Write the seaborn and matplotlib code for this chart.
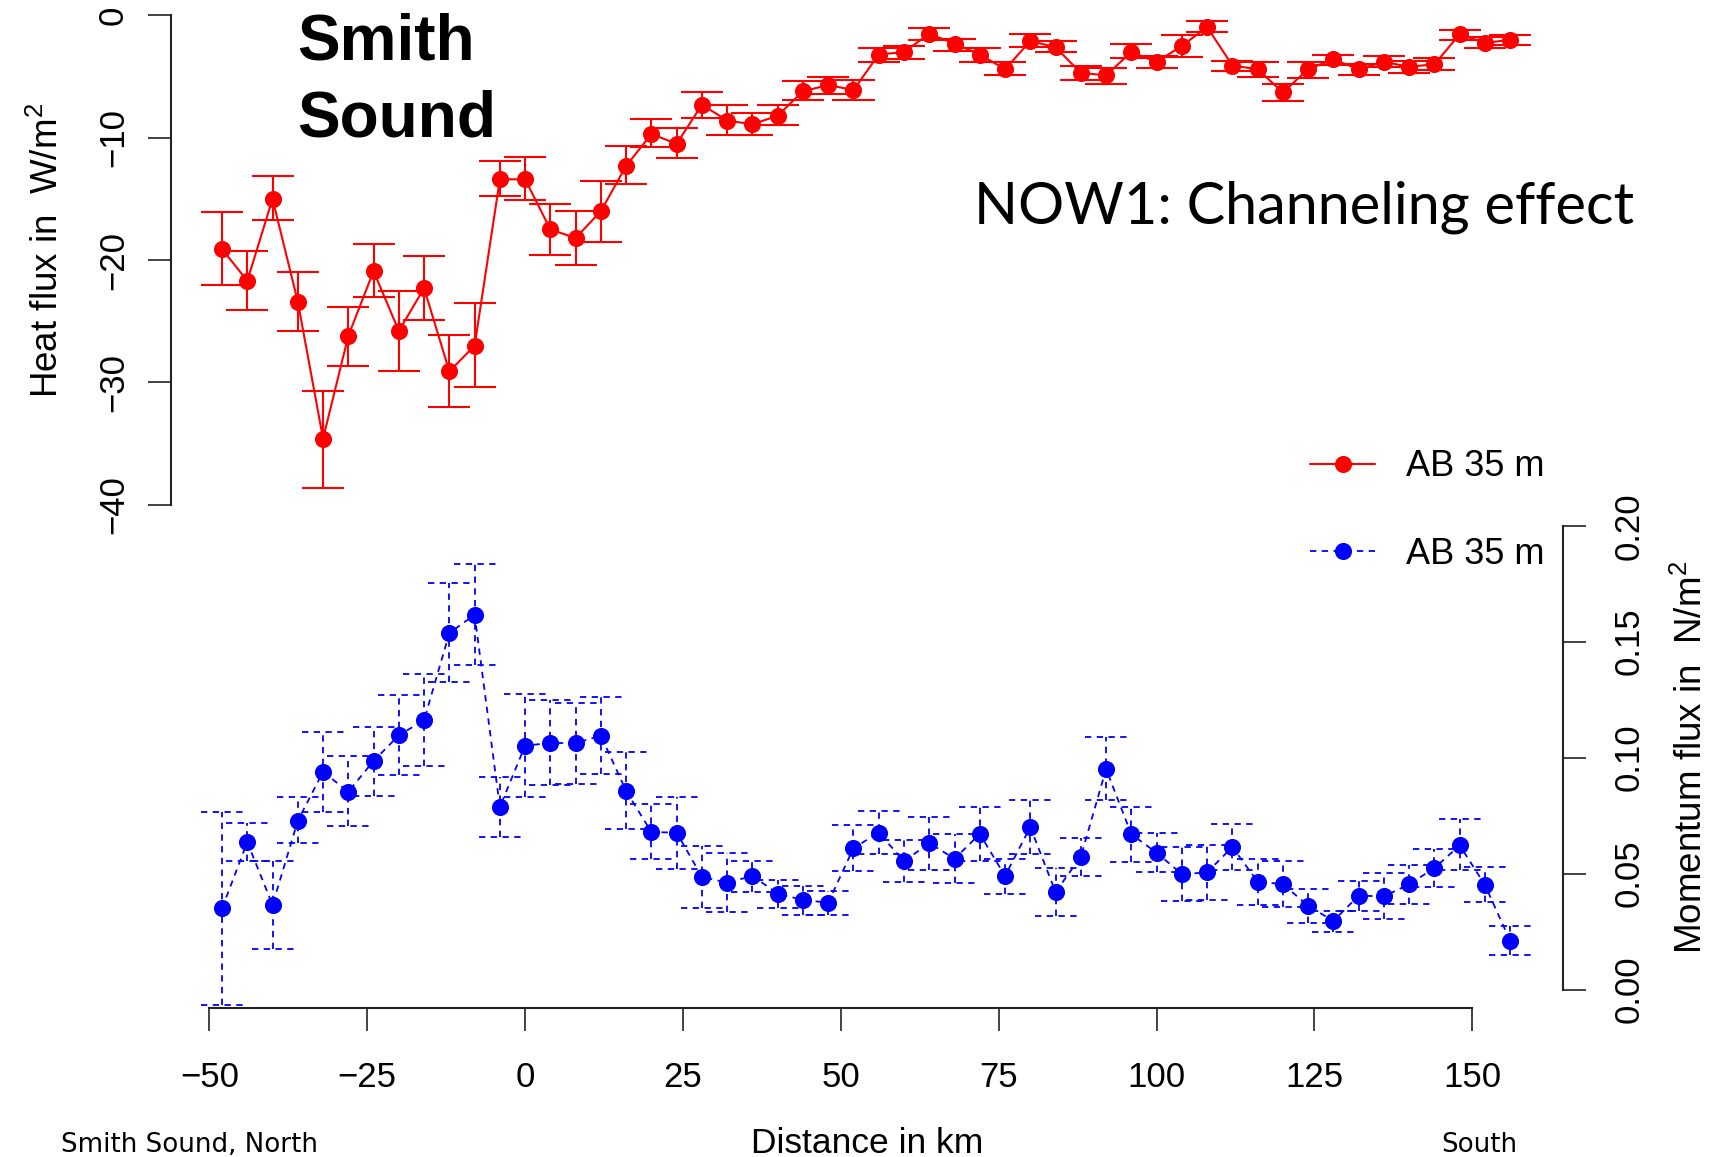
import numpy as np
import pandas as pd
import matplotlib
matplotlib.use("Agg")
import matplotlib.pyplot as plt
import seaborn as sns
from matplotlib.lines import Line2D
from matplotlib.ticker import FormatStrFormatter

# ---------------- data ----------------
km = [-48, -44, -40, -36, -32, -28, -24, -20, -16, -12, -8, -4, 0, 4, 8, 12,
      16, 20, 24, 28, 32, 36, 40, 44, 48, 52, 56, 60, 64, 68, 72, 76, 80, 84,
      88, 92, 96, 100, 104, 108, 112, 116, 120, 124, 128, 132, 136, 140, 144,
      148, 152, 156]

heat = [-19.1, -21.7, -15.0, -23.4, -34.6, -26.2, -20.9, -25.8, -22.3, -29.1,
        -27.0, -13.4, -13.4, -17.5, -18.2, -16.0, -12.3, -9.7, -10.5, -7.3,
        -8.6, -8.9, -8.2, -6.2, -5.7, -6.1, -3.2, -3.0, -1.5, -2.3, -3.2, -4.4,
        -2.1, -2.6, -4.7, -4.9, -3.0, -3.8, -2.5, -0.95, -4.1, -4.4, -6.3, -4.4,
        -3.6, -4.4, -3.8, -4.2, -4.0, -1.55, -2.25, -2.0]
heat_hi = [-16.1, -19.3, -13.1, -21.0, -30.7, -23.8, -18.7, -22.5, -19.7, -26.1,
           -23.5, -11.9, -11.6, -15.4, -16.0, -13.5, -10.7, -8.5, -9.2, -6.3,
           -7.3, -8.0, -7.3, -5.4, -5.0, -5.3, -2.7, -2.5, -1.0, -1.9, -2.7, -3.8,
           -1.5, -2.1, -4.1, -4.3, -2.3, -3.3, -1.6, -0.5, -3.7, -3.8, -5.6, -3.8,
           -3.2, -4.0, -3.35, -3.75, -3.5, -1.2, -1.8, -1.6]
heat_lo = [-22.0, -24.1, -16.7, -25.8, -38.6, -28.7, -23.0, -29.1, -24.9, -32.0,
           -30.4, -14.8, -15.1, -19.6, -20.4, -18.5, -13.8, -10.8, -11.7, -8.4,
           -9.8, -9.8, -9.0, -6.9, -6.4, -6.9, -3.8, -3.6, -2.0, -2.9, -3.8, -4.9,
           -2.6, -3.0, -5.3, -5.6, -3.5, -4.3, -3.4, -1.4, -4.55, -5.0, -7.0, -5.1,
           -4.05, -4.9, -4.2, -4.7, -4.5, -2.0, -2.7, -2.4]

mom = [0.0350, 0.0636, 0.0365, 0.0728, 0.0939, 0.0853, 0.0986, 0.1096, 0.1162,
       0.1537, 0.1616, 0.0787, 0.1052, 0.1063, 0.1063, 0.1095, 0.0856, 0.0679,
       0.0677, 0.0486, 0.0461, 0.0490, 0.0414, 0.0386, 0.0375, 0.0610, 0.0677,
       0.0553, 0.0632, 0.0564, 0.0671, 0.0490, 0.0701, 0.0421, 0.0573, 0.0951,
       0.0670, 0.0590, 0.0498, 0.0505, 0.0615, 0.0465, 0.0455, 0.0361, 0.0296,
       0.0405, 0.0402, 0.0454, 0.0524, 0.0622, 0.0451, 0.0210]
mom_hi = [0.0767, 0.0717, 0.0556, 0.0829, 0.1109, 0.1005, 0.1133, 0.1269, 0.1359,
          0.1754, 0.1834, 0.0917, 0.1274, 0.1247, 0.1237, 0.1263, 0.1023, 0.0799,
          0.0832, 0.0620, 0.0588, 0.0553, 0.0472, 0.0447, 0.0424, 0.0708, 0.0770,
          0.0644, 0.0743, 0.0672, 0.0789, 0.0563, 0.0816, 0.0523, 0.0655, 0.1088,
          0.0786, 0.0676, 0.0616, 0.0625, 0.0714, 0.0565, 0.0554, 0.0432, 0.0340,
          0.0469, 0.0501, 0.0536, 0.0605, 0.0737, 0.0528, 0.0275]
mom_lo = [-0.0066, 0.0556, 0.0176, 0.0632, 0.0767, 0.0705, 0.0835, 0.0924, 0.0964,
          0.1325, 0.1399, 0.0657, 0.0829, 0.0882, 0.0888, 0.0928, 0.0692, 0.0565,
          0.0521, 0.0350, 0.0333, 0.0422, 0.0353, 0.0322, 0.0322, 0.0513, 0.0583,
          0.0464, 0.0516, 0.0460, 0.0553, 0.0412, 0.0586, 0.0316, 0.0490, 0.0817,
          0.0549, 0.0506, 0.0382, 0.0386, 0.0517, 0.0365, 0.0358, 0.0289, 0.0249,
          0.0340, 0.0306, 0.0369, 0.0442, 0.0515, 0.0376, 0.0149]

x_ticks = [-50, -25, 0, 25, 50, 75, 100, 125, 150]
heat_ticks = [0, -10, -20, -30, -40]
mom_ticks = [0.00, 0.05, 0.10, 0.15, 0.20]
series_label = "AB 35 m"

# ---------------- style ----------------
sns.set_style("white")
plt.rcParams['font.family'] = ['Liberation Sans', 'DejaVu Sans']
plt.rcParams['mathtext.fontset'] = 'custom'
plt.rcParams['mathtext.rm'] = 'Liberation Sans'
plt.rcParams['mathtext.it'] = 'Liberation Sans:italic'
plt.rcParams['mathtext.bf'] = 'Liberation Sans:bold'
for k in ['text.color', 'axes.labelcolor', 'xtick.color', 'ytick.color']:
    plt.rcParams[k] = 'black'

W, H = 1728, 1157
fig = plt.figure(figsize=(W / 100, H / 100), dpi=100)
L, R, T, B = 171, 1563, 15, 1008
ax = fig.add_axes([L / W, 1 - B / H, (R - L) / W, (B - T) / H])
ax2 = ax.twinx()

kmv = np.array(km, dtype=float)
cap = 3.33  # half cap width in km
MS = 12.3

# heat flux (red, solid)
df_h = pd.DataFrame({"km": km, "heat": heat})
sns.lineplot(data=df_h, x="km", y="heat", ax=ax, color="red", marker="o",
             markersize=MS, markeredgewidth=0, lw=1.5, estimator=None,
             sort=False, clip_on=False, zorder=3)
ax.vlines(kmv, heat_lo, heat_hi, color="red", lw=1.5, clip_on=False)
ax.hlines(heat_hi, kmv - cap, kmv + cap, color="red", lw=1.5, clip_on=False)
ax.hlines(heat_lo, kmv - cap, kmv + cap, color="red", lw=1.5, clip_on=False)

# momentum flux (blue, dashed)
dash = (0, (3.5, 3))
df_m = pd.DataFrame({"km": km, "mom": mom})
sns.lineplot(data=df_m, x="km", y="mom", ax=ax2, color="blue", marker="o",
             markersize=MS, markeredgewidth=0, lw=1.3, linestyle=dash,
             estimator=None, sort=False, clip_on=False, zorder=3)
ax2.vlines(kmv, mom_lo, mom_hi, color="blue", lw=1.3, linestyles=[dash], clip_on=False)
ax2.hlines(mom_hi, kmv - cap, kmv + cap, color="blue", lw=1.3, linestyles=[dash], clip_on=False)
ax2.hlines(mom_lo, kmv - cap, kmv + cap, color="blue", lw=1.3, linestyles=[dash], clip_on=False)

# ---------------- axes ----------------
ax.set_xlim(-56.08, 164.36)
ax.set_ylim(-81.14, 0.03)
ax2.set_ylim(-0.00793, 0.42018)

for s in ["top", "right"]:
    ax.spines[s].set_visible(False)
for s in ["top", "left", "bottom"]:
    ax2.spines[s].set_visible(False)
for sp in [ax.spines["left"], ax.spines["bottom"], ax2.spines["right"]]:
    sp.set_color("#222222")
    sp.set_linewidth(1.5)
ax.spines["left"].set_bounds(-40, 0)
ax.spines["bottom"].set_bounds(-50, 150)
ax2.spines["right"].set_bounds(0, 0.2)

ax.set_xticks(x_ticks)
ax.set_yticks(heat_ticks)
ax2.set_yticks(mom_ticks)
ax2.yaxis.set_major_formatter(FormatStrFormatter("%.2f"))

ax.tick_params(axis="x", length=16.5, width=1.2, pad=22, labelsize=25,
               color="#222222", bottom=True)
ax.tick_params(axis="y", length=16.5, width=1.2, pad=13, labelsize=25,
               color="#222222", left=True, labelrotation=90)
for t in ax.get_yticklabels():
    t.set_va("center")
ax2.tick_params(axis="y", length=16.5, width=1.2, pad=19, labelsize=25,
                color="#222222", right=True, labelrotation=90)
for t in ax2.get_yticklabels():
    t.set_va("center")
ax.grid(False)
ax2.grid(False)

ax.set_xlabel("Distance in km", fontsize=25.5)
ax.xaxis.set_label_coords(0.5, -0.120)
ax.set_ylabel("Heat flux in  W/m$^2$", fontsize=26.5)
ax.yaxis.set_label_coords(-0.0754, 0.763)
ax2.set_ylabel("Momentum flux in  N/m$^2$", fontsize=26.5, rotation=90)
ax2.yaxis.set_label_coords(1.0795, 0.252)

# ---------------- annotations ----------------
fig.text(297 / W, 1 - 13 / H, "Smith\nSound", fontsize=46, fontweight="bold",
         ha="left", va="top", linespacing=1.36)
fig.text(1634 / W, 1 - 224 / H, "NOW1: Channeling effect", fontsize=41.5,
         family="Lato", ha="right", va="baseline")
fig.text(60.6 / W, 1 - 1152 / H, "Smith Sound, North", fontsize=18.8,
         family="DejaVu Sans", ha="left", va="baseline")
fig.text(1441 / W, 1 - 1152 / H, "South", fontsize=18.8,
         family="DejaVu Sans", ha="left", va="baseline")

handles = [Line2D([], [], color="red", marker="o", markersize=MS, markeredgewidth=0, lw=1.5),
           Line2D([], [], color="blue", marker="o", markersize=MS, markeredgewidth=0,
                  lw=1.3, linestyle=dash)]
fig.legend(handles, [series_label, series_label], loc="center left",
           bbox_to_anchor=(1310 / W, 1 - 510.5 / H), bbox_transform=fig.transFigure,
           frameon=False, fontsize=26, handlelength=1.8, handletextpad=0.87,
           labelspacing=1.45, borderpad=0, borderaxespad=0)

fig.savefig("out.png", dpi=100)
